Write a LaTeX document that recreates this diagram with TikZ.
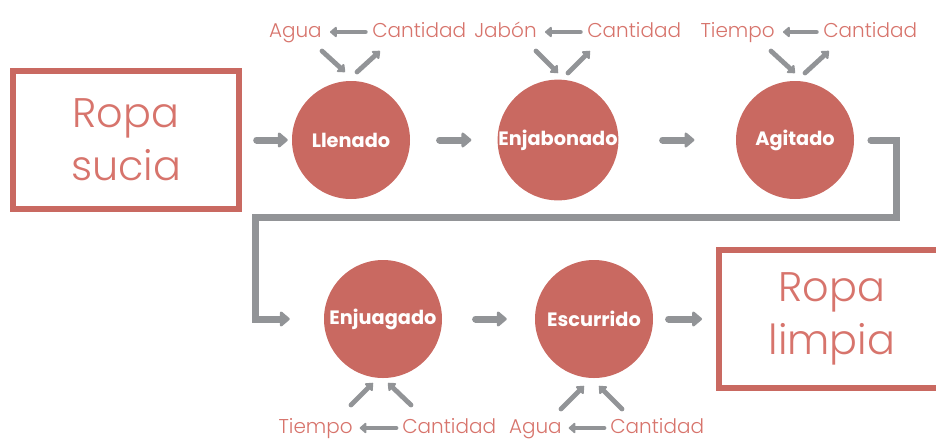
\documentclass[tikz,border=0pt]{standalone}
\usepackage{fontspec}
\setmainfont{Poppins}
\newfontfamily\thinfont{Poppins Light}
\usepackage{xcolor}
\usepackage{tikz}
\usetikzlibrary{arrows.meta}

\definecolor{brick}{HTML}{C96961}
\definecolor{rose}{HTML}{D7746C}
\definecolor{ash}{HTML}{929497}

\tikzset{
    stage/.style={circle, fill=brick, text=white, inner sep=0pt, minimum size=88.5pt,
        font=\bfseries\fontsize{14.5}{17}\selectfont},
    ingredient/.style={text=rose, inner sep=0pt, text height=11pt, text depth=3pt,
        font=\thinfont\fontsize{15}{18}\selectfont},
    batch/.style={draw=brick, line width=4.5pt, text=rose, align=center,
        minimum width=169.5pt, minimum height=103.5pt, font=\thinfont\fontsize{31}{40}\selectfont},
    flow/.style={draw=ash, line width=5.25pt, line cap=round, -{Triangle[round, length=8pt, width=13pt]}},
    feed/.style={draw=ash, line width=3.6pt, line cap=round, -{Triangle[round, length=5.5pt, width=9pt]}},
}

\begin{document}
\begin{tikzpicture}[x=0.75pt, y=-0.75pt]
        \useasboundingbox (0, 0) rectangle (936, 440);

        \node[batch] (ropa-sucia)  at (126, 140) {Ropa\\sucia};
        \node[batch] (ropa-limpia) at (832, 319) {Ropa\\limpia};

        \node[stage] (llenado)    at (351, 140) {Llenado};
        \node[stage] (enjabonado) at (558, 140) {Enjabonado};
        \node[stage] (agitado)    at (795, 140) {Agitado};
        \node[stage] (enjuagado)  at (383, 319) {Enjuagado};
        \node[stage] (escurrido)  at (594, 319) {Escurrido};

        \node[ingredient, anchor=east] (agua-1)     at (322,  32) {Agua};
        \node[ingredient, anchor=west] (cantidad-1) at (372,  32) {Cantidad};
        \node[ingredient, anchor=east] (jabon)      at (537,  32) {Jabón};
        \node[ingredient, anchor=west] (cantidad-2) at (587,  32) {Cantidad};
        \node[ingredient, anchor=east] (tiempo-1)   at (775,  32) {Tiempo};
        \node[ingredient, anchor=west] (cantidad-3) at (823,  32) {Cantidad};
        \node[ingredient, anchor=east] (tiempo-2)   at (353, 428) {Tiempo};
        \node[ingredient, anchor=west] (cantidad-4) at (402, 428) {Cantidad};
        \node[ingredient, anchor=east] (agua-2)     at (562, 428) {Agua};
        \node[ingredient, anchor=west] (cantidad-5) at (610, 428) {Cantidad};

        % ends of the short slanted arrows
        \coordinate (agua-1-from)     at (322,  51);
        \coordinate (agua-1-to)       at (345,  72);
        \coordinate (cantidad-1-from) at (357,  72);
        \coordinate (cantidad-1-to)   at (380,  51);
        \coordinate (jabon-from)      at (536,  51);
        \coordinate (jabon-to)        at (558,  73);
        \coordinate (cantidad-2-from) at (568,  73);
        \coordinate (cantidad-2-to)   at (590,  51);
        \coordinate (tiempo-1-from)   at (771,  51);
        \coordinate (tiempo-1-to)     at (795,  73);
        \coordinate (cantidad-3-from) at (805,  73);
        \coordinate (cantidad-3-to)   at (829,  51);
        \coordinate (tiempo-2-from)   at (351, 405);
        \coordinate (tiempo-2-to)     at (373, 383);
        \coordinate (cantidad-4-from) at (411, 405);
        \coordinate (cantidad-4-to)   at (388, 383);
        \coordinate (agua-2-from)     at (561, 409);
        \coordinate (agua-2-to)       at (584, 386);
        \coordinate (cantidad-5-from) at (622, 409);
        \coordinate (cantidad-5-to)   at (599, 386);

        \coordinate (bend-right) at (896, 217);
        \coordinate (bend-left)  at (255, 217);

        \draw[flow, shorten <=11pt, shorten >=3pt] (ropa-sucia) -- (llenado);
        \draw[flow, shorten <=22pt, shorten >=19.5pt] (llenado) -- (enjabonado);
        \draw[flow, shorten <=33pt, shorten >=31pt] (enjabonado) -- (agitado);
        \draw[flow, shorten <=12.5pt, shorten >=25.5pt] (agitado) -| (bend-right) -- (bend-left) |- (enjuagado);
        \draw[flow, shorten <=25pt, shorten >=21pt] (enjuagado) -- (escurrido);
        \draw[flow, shorten <=11.5pt, shorten >=10.5pt] (escurrido) -- (ropa-limpia);

        \draw[feed, shorten <=5pt, shorten >=6pt] (cantidad-1) -- (agua-1);
        \draw[feed, shorten <=5pt, shorten >=6pt] (cantidad-2) -- (jabon);
        \draw[feed, shorten <=5pt, shorten >=6pt] (cantidad-3) -- (tiempo-1);
        \draw[feed, shorten <=4.5pt, shorten >=5pt] (cantidad-4) -- (tiempo-2);
        \draw[feed, shorten <=4.5pt, shorten >=5pt] (cantidad-5) -- (agua-2);

        \draw[feed] (agua-1-from) -- (agua-1-to);
        \draw[feed] (cantidad-1-from) -- (cantidad-1-to);
        \draw[feed] (jabon-from) -- (jabon-to);
        \draw[feed] (cantidad-2-from) -- (cantidad-2-to);
        \draw[feed] (tiempo-1-from) -- (tiempo-1-to);
        \draw[feed] (cantidad-3-from) -- (cantidad-3-to);
        \draw[feed] (tiempo-2-from) -- (tiempo-2-to);
        \draw[feed] (cantidad-4-from) -- (cantidad-4-to);
        \draw[feed] (agua-2-from) -- (agua-2-to);
        \draw[feed] (cantidad-5-from) -- (cantidad-5-to);
    \end{tikzpicture}
\end{document}
